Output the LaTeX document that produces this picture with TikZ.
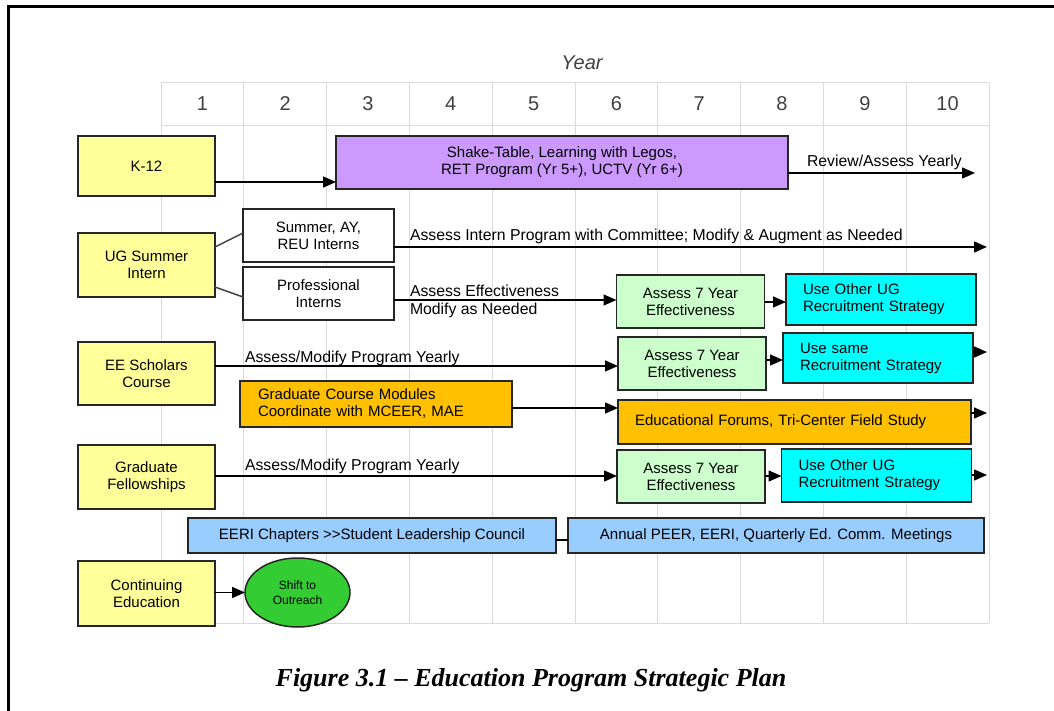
\documentclass[tikz,border=0pt]{standalone}
\usepackage{fontspec}
\setmainfont{Liberation Sans}
\newfontfamily\dfont{Liberation Sans}
\newfontfamily\capfont{Liberation Serif}
\usetikzlibrary{arrows.meta,shapes.geometric}
\definecolor{yel}{HTML}{FFFF99}
\definecolor{purp}{HTML}{CC99FF}
\definecolor{lgrn}{HTML}{CCFFCC}
\definecolor{cyn}{HTML}{00FFFF}
\definecolor{org}{HTML}{FFC000}
\definecolor{lblu}{HTML}{99CCFF}
\definecolor{grn}{HTML}{33CC33}
\definecolor{gridc}{HTML}{DADADA}
\begin{document}
\begin{tikzpicture}[x=1pt,y=-1pt,
  every node/.style={font=\dfont\fontsize{15}{17}\selectfont, inner sep=0pt, outer sep=0pt},
  box/.style={draw=black!85, line width=1.5pt, align=center},
  ybox/.style={box, fill=yel, minimum width=137pt},
  wbox/.style={box, fill=white, minimum width=151pt, minimum height=53pt},
  gbox/.style={box, fill=lgrn, minimum width=148pt, minimum height=53pt},
  cbox/.style={box, fill=cyn, align=left, text width=156pt, inner xsep=17pt},
  obox/.style={box, fill=org, align=left},
  bbox/.style={box, fill=lblu, minimum height=35pt},
  arr/.style={-{Triangle[length=13pt,width=11pt]}, line width=1.5pt, black},
  conn/.style={line width=1.5pt, black!75},
  gridline/.style={gridc, line width=1pt},
  lbl/.style={anchor=base west, font=\dfont\fontsize{15.8}{18}\selectfont},
  yr/.style={font=\dfont\fontsize{20}{24}\selectfont, text=black!75}
]
\useasboundingbox (0,0) rectangle (1054,711);
\draw[line width=3pt] (8,711) -- (8,7) -- (1054,7);

% grid
\foreach \i in {0,...,10} \draw[gridline] ({161+82.8*\i},83) -- ({161+82.8*\i},623);
\draw[gridline] (161,83) -- (989,83);
\draw[gridline] (161,126) -- (989,126);
\draw[gridline] (161,623) -- (989,623);
\foreach \i in {1,...,10} \node[yr] (y\i) at ({161+82.8*(\i-0.5)},104) {\i};
\node[yr, font=\dfont\itshape\fontsize{20}{24}\selectfont] (year) at (582,63) {Year};

% nodes
\node[ybox, minimum height=60pt] (k12) at (146.5,166) {K-12};
\node[box, fill=purp, minimum width=452pt, minimum height=53pt] (shake) at (562,162.5) {Shake-Table, Learning with Legos,\\RET Program (Yr 5+), UCTV (Yr 6+)};
\node[ybox, minimum height=64pt] (ug) at (146.5,265) {UG Summer\\Intern};
\node[wbox] (summer) at (318.5,235.5) {Summer, AY,\\REU Interns};
\node[wbox] (prof) at (318.5,293.5) {Professional\\Interns};
\node[gbox] (a7a) at (690.5,301.5) {Assess 7 Year\\Effectiveness};
\node[cbox, minimum height=51pt] (cya) at (881,299.5) {Use Other UG\\Recruitment Strategy};
\node[ybox, minimum height=63pt] (ee) at (146.5,373.5) {EE Scholars\\Course};
\node[gbox] (a7b) at (692,363.5) {Assess 7 Year\\Effectiveness};
\node[cbox, minimum height=50pt] (cyb) at (878,358) {Use same\\Recruitment Strategy};
\node[obox, text width=236pt, inner xsep=18pt, minimum height=46pt] (gcm) at (376,404) {Graduate Course Modules\\Coordinate with MCEER, MAE};
\node[obox, text width=319pt, inner xsep=17pt, minimum height=44pt] (efs) at (794.5,422) {Educational Forums, Tri-Center Field Study};
\node[ybox, minimum height=64pt] (gf) at (146.5,477) {Graduate\\Fellowships};
\node[gbox] (a7c) at (691,476.5) {Assess 7 Year\\Effectiveness};
\node[cbox, minimum height=53pt] (cyc) at (876.5,475.5) {Use Other UG\\Recruitment Strategy};
\node[bbox, minimum width=368pt] (eeri) at (372,535.5) {EERI Chapters >>Student Leadership Council};
\node[bbox, minimum width=416pt] (annual) at (776,535.5) {Annual PEER, EERI, Quarterly Ed. Comm. Meetings};
\node[ybox, minimum height=65pt] (ce) at (146.5,593.5) {Continuing\\Education};
\node[ellipse, draw=black!85, line width=1.5pt, fill=grn, minimum width=105pt, minimum height=69pt, align=center, font=\dfont\fontsize{12}{15}\selectfont] (shift) at (297.5,592.5) {Shift to\\Outreach};

% free ends
\coordinate (e1) at (975,173);
\coordinate (e2) at (987,247);
\coordinate (e3) at (987,352);
\coordinate (e4) at (987,413);
\coordinate (e5) at (987,475);

% connectors
\draw[arr] (k12.east |- 0,182) -- (shake.west |- 0,182);
\draw[arr] (shake.east |- e1) -- (e1);
\draw[conn] (ug.east |- 0,247) -- (summer.west |- 0,233);
\draw[conn] (ug.east |- 0,287) -- (prof.west |- 0,297);
\draw[arr] (summer.east |- e2) -- (e2);
\draw[arr] (prof.east |- 0,300) -- (a7a.west |- 0,300);
\draw[arr] (a7a.east |- 0,302) -- (cya.west |- 0,302);
\draw[arr] (ee.east |- 0,366) -- (a7b.west |- 0,366);
\draw[arr] (a7b.east |- 0,360) -- (cyb.west |- 0,360);
\draw[arr] (cyb.east |- e3) -- (e3);
\draw[arr] (gcm.east |- 0,408) -- (efs.west |- 0,408);
\draw[arr] (efs.east |- e4) -- (e4);
\draw[arr] (gf.east |- 0,476) -- (a7c.west |- 0,476);
\draw[arr] (a7c.east |- 0,476) -- (cyc.west |- 0,476);
\draw[arr] (cyc.east |- e5) -- (e5);
\draw[conn, black] (eeri.east |- 0,540) -- (annual.west |- 0,540);
\draw[arr] (ce.east |- shift.west) -- (shift.west);

% labels
\node[lbl] (l1) at (807,167) {Review/Assess Yearly};
\node[lbl] (l2) at (410,241) {Assess Intern Program with Committee; Modify \& Augment as Needed};
\node[lbl] (l3) at (410,296) {Assess Effectiveness};
\node[lbl] (l4) at (410,314) {Modify as Needed};
\node[lbl] (l5) at (245,362) {Assess/Modify Program Yearly};
\node[lbl] (l6) at (245,470) {Assess/Modify Program Yearly};

% caption
\node[font=\capfont\bfseries\itshape\fontsize{26}{30}\selectfont] (cap) at (531,680) {Figure 3.1 – Education Program Strategic Plan};
\end{tikzpicture}
\end{document}
